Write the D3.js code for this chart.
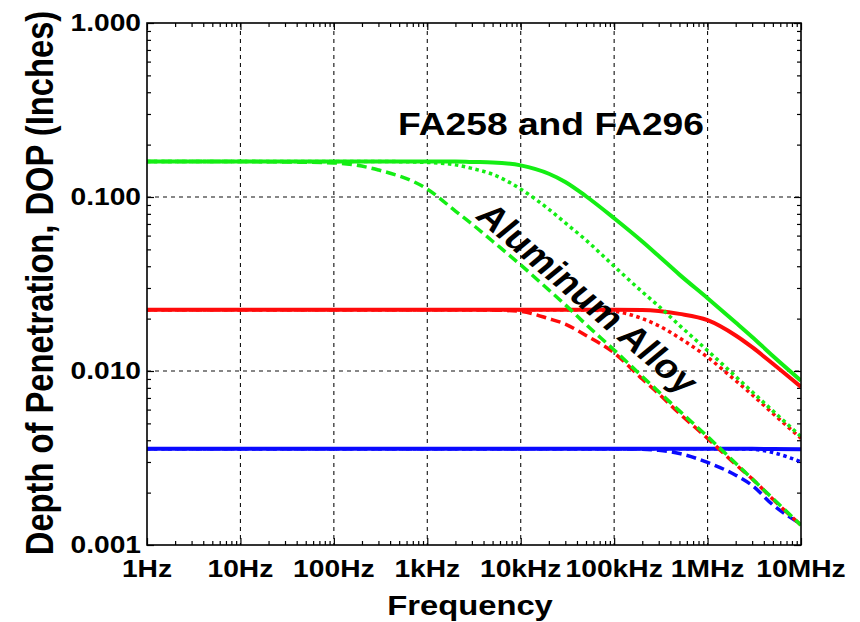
<!DOCTYPE html>
<html>
<head>
<meta charset="utf-8">
<script src="https://cdn.jsdelivr.net/npm/d3@7"></script>
<style>
body { margin: 0; background: #fff; }
text { font-family: "Liberation Sans", Arial, sans-serif; font-weight: bold; fill: #000; }
</style>
</head>
<body>
<svg id="chart" width="860" height="622"></svg>
<script>
// frequencies (Hz) shared by every curve
var freqs = [1, 3, 10, 30, 100, 300, 1e3, 2e3, 3e3, 5e3, 1e4, 2e4, 3e4, 5e4, 1e5, 2e5, 3e5, 5e5, 1e6, 2e6, 3e6, 5e6, 1e7];

// depth of penetration (inches)
var greenSolid  = [.160, .160, .160, .160, .160, .160, .160, .160, .159, .158, .152, .136, .122, .101, .0755, .0555, .0458, .0358, .0262, .0190, .0157, .0122, .0088];
var greenDotted = [.160, .160, .160, .160, .160, .160, .158, .153, .146, .135, .111, .085, .071, .0565, .040, .0285, .0236, .0183, .0131, .0093, .0076, .0059, .0042];
var greenDashed = [.160, .160, .160, .159, .157, .143, .111, .083, .070, .0557, .0407, .0292, .0240, .0185, .0132, .0093, .0076, .0059, .0042, .00295, .0024, .00185, .0013];
var redSolid    = [.0225, .0225, .0225, .0225, .0225, .0225, .0225, .0225, .0225, .0225, .0225, .0225, .0225, .0225, .0225, .0224, .0221, .0213, .0196, .0160, .0137, .0110, .0081];
var redDotted   = [.0225, .0225, .0225, .0225, .0225, .0225, .0225, .0225, .0225, .0225, .0225, .0225, .0225, .0224, .0220, .0200, .0182, .0155, .0120, .0088, .0073, .0057, .0041];
var redDashed   = [.0225, .0225, .0225, .0225, .0225, .0225, .0225, .0225, .0225, .0224, .0220, .0200, .0186, .0160, .0127, .0090, .0074, .0057, .0041, .0029, .0024, .00183, .0013];
var blueSolid   = [.00357, .00357, .00357, .00357, .00357, .00357, .00357, .00357, .00357, .00357, .00357, .00357, .00357, .00357, .00357, .00357, .00357, .00357, .00357, .00357, .00357, .00356, .00355];
var blueDotted  = [.00357, .00357, .00357, .00357, .00357, .00357, .00357, .00357, .00357, .00357, .00357, .00357, .00357, .00357, .00357, .00357, .00357, .00357, .00357, .00357, .00355, .0034, .0030];
var blueDashed  = [.00357, .00357, .00357, .00357, .00357, .00357, .00357, .00357, .00357, .00357, .00357, .00357, .00357, .00357, .00357, .00355, .0035, .00336, .00298, .00252, .0022, .0017, .00132];

var xTicks = [1, 10, 100, 1e3, 1e4, 1e5, 1e6, 1e7];
var xTickLabels = ["1Hz", "10Hz", "100Hz", "1kHz", "10kHz", "100kHz", "1MHz", "10MHz"];
var yTicks = [1, 0.1, 0.01, 0.001];
var yTickLabels = ["1.000", "0.100", "0.010", "0.001"];

var series = [
  {v: blueSolid,   color: "#0a0aff", dash: null},
  {v: blueDotted,  color: "#0a0aff", dash: "3.5,3.5"},
  {v: blueDashed,  color: "#0a0aff", dash: "10,5"},
  {v: redSolid,    color: "#ff0a0a", dash: null},
  {v: redDotted,   color: "#ff0a0a", dash: "3.5,3.5"},
  {v: redDashed,   color: "#ff0a0a", dash: "10,5"},
  {v: greenSolid,  color: "#14ee14", dash: null},
  {v: greenDotted, color: "#14ee14", dash: "3.5,3.5"},
  {v: greenDashed, color: "#14ee14", dash: "10,5"}
];

var svg = d3.select("#chart");
var pLeft = 147, pRight = 801, pTop = 23, pBottom = 545;
var sx = 1.19; // the lettering in the reference is a bit wide

var x = d3.scaleLog().domain([1, 1e7]).range([pLeft, pRight]);
var y = d3.scaleLog().domain([0.001, 1]).range([pBottom, pTop]);

// minor tick values
var xMinor = [], yMinor = [];
for (var d = 0; d < 7; d++) for (var k = 2; k < 10; k++) xMinor.push(k * Math.pow(10, d));
for (var d = -3; d < 0; d++) for (var k = 2; k < 10; k++) yMinor.push(k * Math.pow(10, d));

// grid
var grid = svg.append("g").attr("stroke", "#111").attr("stroke-width", 1.1).attr("stroke-dasharray", "4,4");
grid.selectAll(".gx").data(xTicks.slice(1, -1)).enter().append("line")
  .attr("x1", function(d) { return x(d); }).attr("x2", function(d) { return x(d); })
  .attr("y1", pTop).attr("y2", pBottom);
grid.selectAll(".gy").data(yTicks.slice(1, -1)).enter().append("line")
  .attr("x1", pLeft).attr("x2", pRight)
  .attr("y1", function(d) { return y(d); }).attr("y2", function(d) { return y(d); });

// inward ticks on all four sides
function drawAxes(vals, len, yvals) {
  svg.append("g").attr("transform", "translate(0," + pBottom + ")").call(d3.axisTop(x).tickValues(vals).tickSize(len).tickFormat(""));
  svg.append("g").attr("transform", "translate(0," + pTop + ")").call(d3.axisBottom(x).tickValues(vals).tickSize(len).tickFormat(""));
  svg.append("g").attr("transform", "translate(" + pLeft + ",0)").call(d3.axisRight(y).tickValues(yvals).tickSize(len).tickFormat(""));
  svg.append("g").attr("transform", "translate(" + pRight + ",0)").call(d3.axisLeft(y).tickValues(yvals).tickSize(len).tickFormat(""));
}
drawAxes(xMinor, 4, yMinor);
drawAxes(xTicks, 7, yTicks);
svg.selectAll(".domain").remove();
svg.selectAll(".tick line").attr("stroke", "#000").attr("stroke-width", 1.2);

// curves
svg.append("clipPath").attr("id", "clip").append("rect")
  .attr("x", pLeft).attr("y", pTop).attr("width", pRight - pLeft).attr("height", pBottom - pTop);

var line = d3.line()
  .x(function(d, i) { return x(freqs[i]); })
  .y(function(d) { return y(d); })
  .curve(d3.curveMonotoneX);

svg.append("g").attr("clip-path", "url(#clip)")
  .selectAll("path").data(series).enter().append("path")
  .attr("d", function(s) { return line(s.v); })
  .attr("fill", "none")
  .attr("stroke", function(s) { return s.color; })
  .attr("stroke-width", function(s) { return s.dash ? 3.5 : 4; })
  .attr("stroke-dasharray", function(s) { return s.dash; });

// frame
svg.append("rect").attr("x", pLeft).attr("y", pTop).attr("width", pRight - pLeft).attr("height", pBottom - pTop)
  .attr("fill", "none").attr("stroke", "#000").attr("stroke-width", 1.6);

// tick labels
svg.selectAll(".xl").data(xTicks).enter().append("text")
  .attr("transform", function(d) { return "translate(" + x(d) + ",577) scale(" + sx + ",1)"; })
  .attr("text-anchor", "middle").attr("font-size", "23.7px")
  .text(function(d, i) { return xTickLabels[i]; });

svg.selectAll(".yl").data(yTicks).enter().append("text")
  .attr("transform", function(d) { return "translate(141," + (y(d) + 8) + ") scale(" + sx + ",1)"; })
  .attr("text-anchor", "end").attr("font-size", "23.7px")
  .text(function(d, i) { return yTickLabels[i]; });

// axis titles
svg.append("text")
  .attr("transform", "translate(470,615) scale(1.17,1)")
  .attr("text-anchor", "middle").attr("font-size", "28px")
  .text("Frequency");

svg.append("text")
  .attr("transform", "translate(53,283) scale(" + sx + ",1) rotate(-90)")
  .attr("text-anchor", "middle").attr("font-size", "32.7px")
  .text("Depth of Penetration, DOP (Inches)");

// annotations
svg.append("text")
  .attr("transform", "translate(551,135) scale(1.2,1)")
  .attr("text-anchor", "middle").attr("font-size", "31px")
  .text("FA258 and FA296");

svg.append("text")
  .attr("transform", "translate(588,298) scale(" + sx + ",1) rotate(45.5)")
  .attr("text-anchor", "middle").attr("dy", "0.35em").attr("font-size", "33px")
  .text("Aluminum Alloy");
</script>
</body>
</html>
